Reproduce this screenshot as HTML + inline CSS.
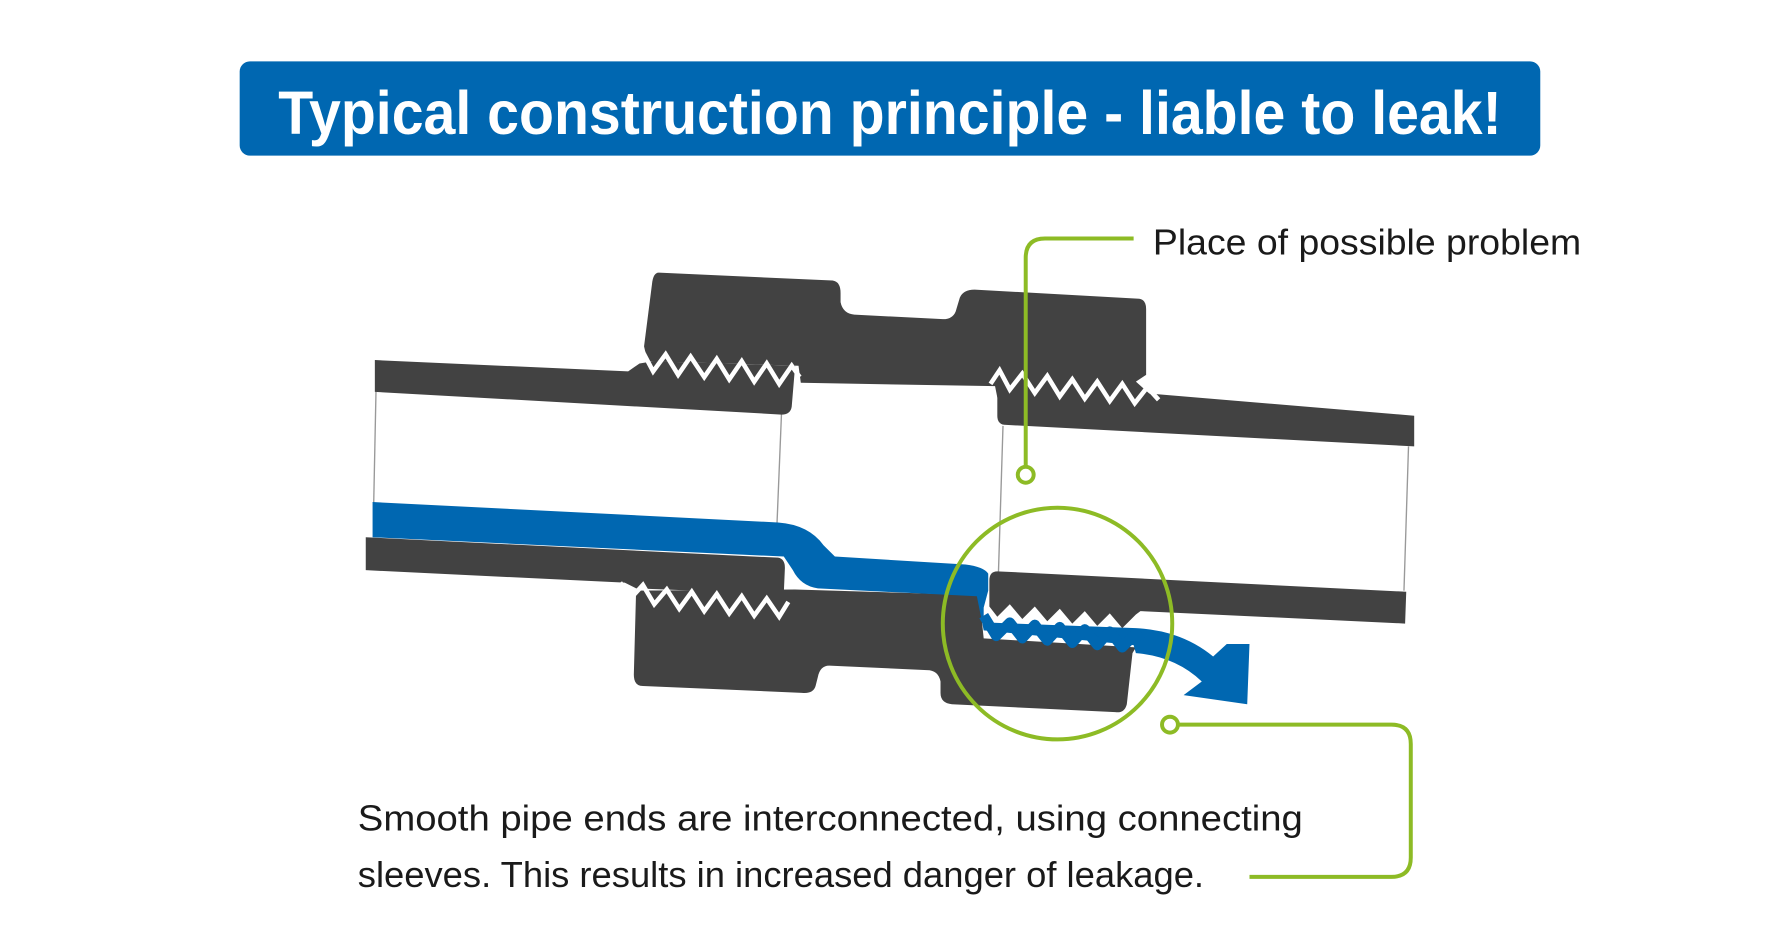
<!DOCTYPE html>
<html><head><meta charset="utf-8"><style>
html,body{margin:0;padding:0;background:#fff;}
svg{display:block;}
</style></head><body>
<svg width="1772" height="945" viewBox="0 0 1560 832" preserveAspectRatio="none" xmlns="http://www.w3.org/2000/svg">
<rect x="0" y="0" width="1560" height="832" fill="#fff"/>
<!-- title -->
<rect x="211" y="54" width="1145" height="83" rx="9" fill="#0067b1"/>
<text x="245" y="118" font-family="'Liberation Sans Narrow','Liberation Sans',sans-serif" font-weight="bold" font-size="54" fill="#fff" textLength="1077" lengthAdjust="spacingAndGlyphs">Typical construction principle - liable to leak!</text>

<!-- grey thin lines -->
<g stroke="#999" stroke-width="1.2">
<line x1="331" y1="345" x2="329" y2="443"/>
<line x1="688" y1="364" x2="684" y2="462"/>
<line x1="883" y1="375" x2="879" y2="504"/>
<line x1="1240" y1="393" x2="1236" y2="520"/>
</g>

<!-- upper coupler -->
<path d="M580,240 L733,247 Q740,248 740,258 L740,266 Q742,276 752,277 L830,281 Q840,281 842,272 L845,262 Q848,255 858,255 L1003,263 Q1009,264 1009,272 L1009,330 L1000,336 L1018,352 L878,350 L876,340 L705,337 L703,322 L570,318 L567,305 L574,250 Q575,240 580,240 Z" fill="#424242"/>
<!-- left pipe upper wall -->
<path d="M330,317 L553,327 L563,320 L575,318 L700,322 L697,358 Q696,365 688,365 L330,345 Z" fill="#424242"/>
<!-- right pipe upper wall -->
<path d="M878,338 L1018,347 L1245,366 L1245,393 L884,374 Q878,373 878,366 Z" fill="#424242"/>

<!-- threads upper left -->
<polyline points="556,322 566,310 575,327 586,312 597,330 608,314 620,332 631,316 642,334 653,318 664,336 675,320 686,338 697,322 704,332" fill="none" stroke="#fff" stroke-width="4" stroke-linejoin="miter"/>
<!-- threads upper right -->
<polyline points="872,338 880,326 889,343 900,329 911,346 922,331 933,349 944,334 955,351 966,336 977,353 988,338 999,355 1010,341 1020,352" fill="none" stroke="#fff" stroke-width="4"/>

<!-- lower coupler -->
<path d="M560,520 L700,519 L862,524 L866,562 L1000,570 L997,575 L992,620 Q990,628 982,627 L838,620 Q828,619 828,610 L828,600 Q826,590 816,590 L730,586 Q722,586 720,596 L718,604 Q716,611 706,610 L566,604 Q558,604 558,594 Z" fill="#424242"/>

<!-- left pipe lower wall -->
<path d="M322,473 L685,491 Q691,492 691,500 L690,523 L560,518 L550,513 L322,502 Z" fill="#424242"/>
<!-- threads lower left -->
<polyline points="546,513 556,526 566,515 576,532 587,519 598,536 609,521 620,538 631,523 642,540 653,525 664,542 675,527 686,543 694,530" fill="none" stroke="#fff" stroke-width="4"/>

<!-- blue leak path -->
<path d="M328,442 L685,460 Q712,462 725,480 L735,490 L850,497 Q866,499 870,505 L870,520 L866,535 L866,548 L1000,553 Q1040,555 1068,578 L1080,567 L1100,567 L1098,620 L1042,612 L1058,600 Q1035,578 1000,575 L998,568 L866,555 L860,525 L720,518 Q705,516 698,502 L690,490 L328,473 Z" fill="#0067b1"/>
<!-- threads right lower (blue) -->
<polyline points="866,542 877,560 889,548 900,562 911,550 922,564 933,552 944,566 955,554 966,568 977,556 988,570 1000,558 1004,564" fill="none" stroke="#0067b1" stroke-width="9" stroke-linejoin="round"/>
<!-- right pipe lower wall with threaded end -->
<path d="M878,503 L1238,521 L1237,549 L1004,538 L1000,541 L988,553 L977,540 L966,551 L955,538 L944,549 L933,536 L922,547 L911,534 L900,545 L889,532 L878,543 L871,534 L871,511 Q871,503 878,503 Z" fill="#424242"/>

<!-- green callouts -->
<g fill="none" stroke="#8dbb25" stroke-width="3.5">
<path d="M998,210 L920,210 Q903,210 903,227 L903,411"/>
<circle cx="903" cy="418" r="7"/>
<ellipse cx="931" cy="549" rx="101" ry="102"/>
<circle cx="1030" cy="638" r="7"/>
<path d="M1037,638 L1225,638 Q1242,638 1242,655 L1242,755 Q1242,772 1225,772 L1100,772"/>
</g>

<g font-family="'Liberation Sans',sans-serif" fill="#1a1a1a" font-size="32">
<text x="1015" y="224" textLength="377" lengthAdjust="spacingAndGlyphs">Place of possible problem</text>
<text x="315" y="731" textLength="832" lengthAdjust="spacingAndGlyphs">Smooth pipe ends are interconnected, using connecting</text>
<text x="315" y="781" textLength="745" lengthAdjust="spacingAndGlyphs">sleeves. This results in increased danger of leakage.</text>
</g>
</svg>
</body></html>
